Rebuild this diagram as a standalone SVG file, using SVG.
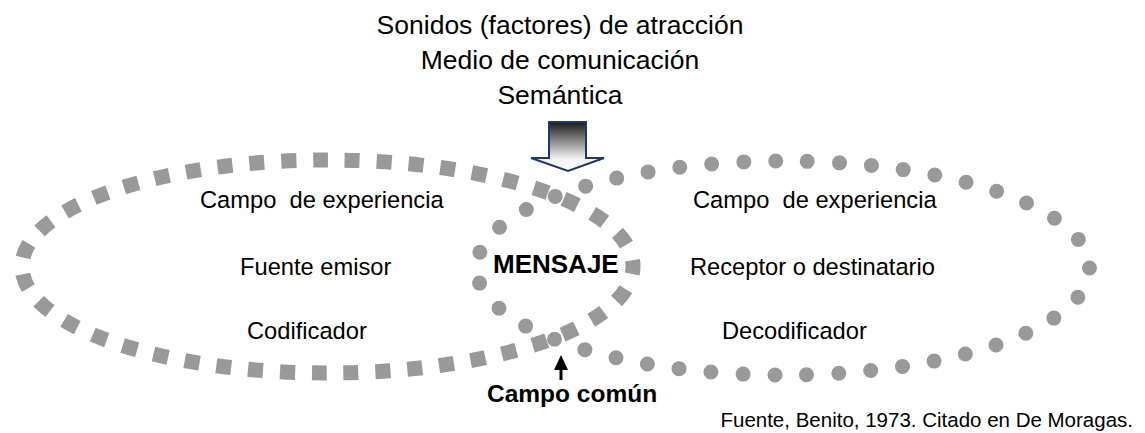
<svg xmlns="http://www.w3.org/2000/svg" width="1145" height="433" viewBox="0 0 1145 433">
  <style>
    .t { font-family: "Liberation Sans", Arial, sans-serif; fill: #000; }
    .lbl { font-size: 23.7px; white-space: pre; }
    .title { font-size: 26.5px; text-anchor: middle; }
    .b { font-weight: bold; }
    .sq { fill: none; stroke: #999; stroke-width: 15; stroke-dasharray: 15 16.9; stroke-dashoffset: 7.5; }
    .dot { fill: none; stroke: #999; stroke-width: 15; stroke-linecap: round; stroke-dasharray: 0 32; }
  </style>
  <defs>
    <linearGradient id="ag" x1="0" y1="0" x2="0" y2="1">
      <stop offset="0" stop-color="#1a1a1a"/>
      <stop offset="0.75" stop-color="#f2f2f2"/>
      <stop offset="1" stop-color="#ffffff"/>
    </linearGradient>
    <marker id="ah" viewBox="0 0 10 10" refX="5" refY="0" markerWidth="5" markerHeight="5" orient="auto-start-reverse" markerUnits="strokeWidth">
      <path d="M0,10 L5,0 L10,10 Z" fill="#000"/>
    </marker>
  </defs>

  <g id="header">
    <text class="t title" x="560" y="34">Sonidos (factores) de atracción</text>
    <text class="t title" x="560" y="69">Medio de comunicación</text>
    <text class="t title" x="560" y="104">Semántica</text>
  </g>

  <g id="medio-arrow">
    <path d="M549,122 L586,122 L586,158 L604,158 L568,171 L531,158 L549,158 Z" fill="url(#ag)" stroke="#1F3864" stroke-width="2" stroke-linejoin="miter"/>
  </g>

  <g id="emisor">
    <ellipse class="sq" cx="327.5" cy="266.5" rx="305.5" ry="106.5"/>
    <text class="t lbl" x="200" y="208" xml:space="preserve">Campo  de experiencia</text>
    <text class="t lbl" x="240" y="275">Fuente emisor</text>
    <text class="t lbl" x="247" y="339">Codificador</text>
  </g>

  <g id="receptor">
    <ellipse class="dot" cx="783" cy="268" rx="306.5" ry="107"/>
    <text class="t lbl" x="693" y="208" xml:space="preserve">Campo  de experiencia</text>
    <text class="t lbl" x="690" y="275">Receptor o destinatario</text>
    <text class="t lbl" x="722" y="339">Decodificador</text>
  </g>

  <g id="mensaje">
    <text class="t b" x="493" y="273" font-size="26">MENSAJE</text>
  </g>

  <g id="connectors">
    <line x1="561" y1="380" x2="561" y2="368" stroke="#000" stroke-width="3"/>
    <polygon points="554,370 561,355 568,370" fill="#000"/>
  </g>

  <g id="campo-comun">
    <text class="t b" x="487" y="402" font-size="24.5">Campo común</text>
  </g>

  <g id="fuente">
    <text class="t" x="1133" y="427" font-size="20.5" text-anchor="end">Fuente, Benito, 1973. Citado en De Moragas.</text>
  </g>
</svg>
